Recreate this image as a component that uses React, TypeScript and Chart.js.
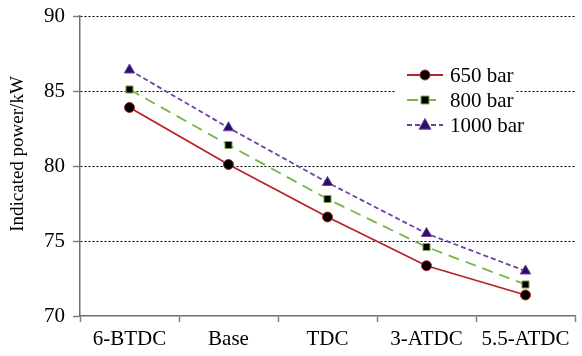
import React, { useEffect, useRef } from "react";
import { Chart, registerables } from "chart.js";

Chart.register(...registerables);

const categories = ["6-BTDC", "Base", "TDC", "3-ATDC", "5.5-ATDC"];
const bar650 = [83.9, 80.1, 76.6, 73.35, 71.4];
const bar800 = [85.1, 81.4, 77.8, 74.6, 72.1];
const bar1000 = [86.4, 82.55, 78.9, 75.5, 73.0];
const seriesNames = ["650 bar", "800 bar", "1000 bar"];
const yTicks = [70, 75, 80, 85, 90];
const yTitle = "Indicated power/kW";

const FONT = "'Liberation Serif', 'Times New Roman', serif";

const legendPlugin = {
  id: "lineLegend",
  afterDatasetsDraw(chart: any) {
    const ctx = chart.ctx as CanvasRenderingContext2D;
    ctx.save();
    // y-axis title
    ctx.save();
    ctx.translate(18, 154);
    ctx.rotate(-Math.PI / 2);
    ctx.fillStyle = "#000";
    ctx.font = `19px ${FONT}`;
    ctx.textAlign = "center";
    ctx.textBaseline = "middle";
    ctx.fillText(yTitle, 0, 0);
    ctx.restore();

    ctx.fillStyle = "#ffffff";
    ctx.fillRect(395, 62, 120, 76);
    chart.data.datasets.forEach((ds: any, i: number) => {
      const y = 75 + i * 25;
      const lx1 = 407;
      const lx2 = 443;
      ctx.save();
      ctx.strokeStyle = ds.borderColor;
      ctx.lineWidth = ds.borderWidth;
      ctx.setLineDash(ds.borderDash || []);
      ctx.beginPath();
      ctx.moveTo(lx1, y);
      ctx.lineTo(lx2, y);
      ctx.stroke();
      ctx.restore();
      const cx = (lx1 + lx2) / 2;
      ctx.save();
      ctx.fillStyle = ds.pointBackgroundColor;
      ctx.strokeStyle = ds.pointBorderColor;
      ctx.lineWidth = 1;
      const r = ds.pointRadius;
      ctx.beginPath();
      if (ds.pointStyle === "circle") {
        ctx.arc(cx, y, r, 0, Math.PI * 2);
      } else if (ds.pointStyle === "rect") {
        const s = r * 0.8;
        ctx.rect(cx - s, y - s, 2 * s, 2 * s);
      } else {
        ctx.moveTo(cx, y - r * 1.1);
        ctx.lineTo(cx + r, y + r * 0.7);
        ctx.lineTo(cx - r, y + r * 0.7);
        ctx.closePath();
      }
      ctx.fill();
      ctx.stroke();
      ctx.restore();
      ctx.fillStyle = "#000";
      ctx.font = `21px ${FONT}`;
      ctx.textBaseline = "middle";
      ctx.textAlign = "left";
      ctx.fillText(seriesNames[i], 450, y + 1);
    });
    ctx.restore();
  },
};

export default function App() {
  const ref = useRef<HTMLCanvasElement | null>(null);
  useEffect(() => {
    document.body.style.margin = "0";
    const canvas = ref.current!;
    const chart = new Chart(canvas, {
      type: "line",
      data: {
        labels: categories,
        datasets: [
          {
            label: seriesNames[0],
            data: bar650,
            borderColor: "#b8232a",
            borderWidth: 1.8,
            pointStyle: "circle",
            pointRadius: 5,
            pointBackgroundColor: "#000000",
            pointBorderColor: "#b8232a",
            pointBorderWidth: 1,
          },
          {
            label: seriesNames[1],
            data: bar800,
            borderColor: "#78b446",
            borderWidth: 1.8,
            borderDash: [11, 7],
            pointStyle: "rect",
            pointRadius: 5,
            pointBackgroundColor: "#000000",
            pointBorderColor: "#78b446",
            pointBorderWidth: 1,
          },
          {
            label: seriesNames[2],
            data: bar1000,
            borderColor: "#7040a8",
            borderWidth: 1.8,
            borderDash: [5, 3],
            pointStyle: "triangle",
            pointRadius: 6,
            pointBackgroundColor: "#2a1060",
            pointBorderColor: "#7040a8",
            pointBorderWidth: 1,
          },
        ] as any,
      },
      options: {
        animation: false,
        responsive: false,
        maintainAspectRatio: false,
        layout: { padding: { top: 0, right: 1, left: 0, bottom: 0 } },
        plugins: {
          legend: { display: false },
          tooltip: { enabled: false },
        },
        scales: {
          x: {
            type: "category",
            offset: true,
            grid: {
              display: true,
              offset: true,
              drawOnChartArea: false,
              drawTicks: true,
              tickLength: 6,
              tickColor: "#808080",
              tickWidth: 1.5,
            },
            border: { display: true, color: "#707070", width: 1.5 },
            ticks: {
              color: "#000",
              font: { family: FONT, size: 21 },
              padding: 5,
              maxRotation: 0,
              autoSkip: false,
            },
            afterFit(scale: any) {
              scale.height = 40;
            },
          },
          y: {
            min: 70,
            max: 90,
            afterBuildTicks(scale: any) {
              scale.ticks = yTicks.map((v) => ({ value: v }));
            },
            grid: {
              display: true,
              drawOnChartArea: true,
              color: (c: any) => (c.tick && c.tick.value === 70 ? "rgba(0,0,0,0)" : "#000000"),
              lineWidth: 1,
              drawTicks: true,
              tickLength: 7,
              tickColor: "#808080",
              tickWidth: 1.5,
            },
            border: { display: true, color: "#707070", width: 1.5, dash: [2, 2] },
            ticks: {
              color: "#000",
              font: { family: FONT, size: 21 },
              padding: 8,
            },
            afterFit(scale: any) {
              scale.width = 80;
              scale.paddingTop = 16;
            },
          },
        },
      } as any,
      plugins: [legendPlugin],
    });
    return () => chart.destroy();
  }, []);
  return (
    <div style={{ width: 582, height: 356 }}>
      <canvas ref={ref} width={582} height={356} style={{ display: "block", width: 582, height: 356 }} />
    </div>
  );
}
